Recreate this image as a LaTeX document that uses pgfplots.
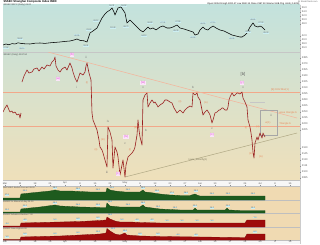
\documentclass[border=0pt]{standalone}
\usepackage{fontspec}
\setmainfont{Liberation Sans}
\usepackage{pgfplots}
\pgfplotsset{compat=1.18}
\definecolor{bgteal}{HTML}{C3E2DD}
\definecolor{bgyel}{HTML}{EEEAB5}
\definecolor{bgbeige}{HTML}{EFE0BA}
\definecolor{striptan}{HTML}{F0DAB2}
\definecolor{candle}{HTML}{9A2020}
\definecolor{salmon}{HTML}{F2A88A}
\definecolor{pinkl}{HTML}{E24FD6}
\definecolor{dkgreen}{HTML}{1E5B1E}
\definecolor{dkred}{HTML}{9E0B0B}
\definecolor{labcyan}{HTML}{CDEFF2}
\definecolor{trendgray}{HTML}{B0A884}
\definecolor{orlab}{HTML}{E8875A}
\pgfplotsset{
  panel/.style={
    scale only axis, width=297pt, xmin=3, xmax=300,
    axis line style={draw=none}, xtick=\empty,
    ytick pos=right, yticklabel pos=right,
    tick align=outside, major tick length=1.2pt,
    every tick/.style={black!45, line width=0.25pt},
    yticklabel style={font=\fontsize{2.6}{3}\selectfont, text=black!65, inner sep=0.4pt},
    /pgf/number format/assume math mode=true,
    /pgf/number format/1000 sep={},
  },
  strip/.style={panel, ymin=0, ytick=\empty},
  dates/.style={
    xtick={5,20,...,290},
    xticklabels={Mar,11,18,25,Apr,8,15,22,May,6,13,20,27,Jun,10,17,24,Jul,8,15},
    xticklabel style={font=\fontsize{2.4}{2.6}\selectfont, text=black!70, inner sep=0.3pt},
  },
}
\tikzset{
  vl/.style={fill=labcyan, inner sep=0.25pt, font=\fontsize{2.1}{2.3}\selectfont, text=black!70},
  pk/.style={text=pinkl, fill=pinkl!15, inner sep=0.3pt, font=\fontsize{3.2}{3.5}\selectfont},
  gr/.style={text=black!55, inner sep=0.2pt, font=\fontsize{3}{3.3}\selectfont},
  ol/.style={text=orlab, inner sep=0.2pt, font=\fontsize{2.6}{2.9}\selectfont},
}
\begin{document}
\begin{tikzpicture}[x=1pt,y=1pt]
\useasboundingbox (0,0) rectangle (320,244);
\fill[white] (0,0) rectangle (320,244);
\shade[top color=bgteal, middle color=bgyel, bottom color=bgbeige] (3,64) rectangle (300,239);
\fill[striptan] (3,4) rectangle (300,58);
\fill[black!3] (3,58) rectangle (300,64);
\fill[black!3] (3,0) rectangle (300,4);
\draw[gray!45, line width=0.3pt] (3,192) -- (300,192);
\draw[gray!50, line width=0.3pt] (3,64)--(300,64) (3,58)--(300,58) (3,44)--(300,44) (3,31)--(300,31) (3,17)--(300,17) (3,4)--(300,4);
\draw[gray!40, line width=0.3pt] (300,0) -- (300,239);
% titles
\node[anchor=north west, font=\fontsize{2.8}{3}\selectfont\bfseries, inner sep=0.3pt] at (3,244) {\$SSEC Shanghai Composite Index  INDX};
\node[anchor=north east, font=\fontsize{2.2}{2.5}\selectfont, text=black!60, inner sep=0.3pt] at (318,244) {@ StockCharts.com};
\node[anchor=north east, font=\fontsize{2.3}{2.5}\selectfont, inner sep=0.3pt] at (300,241.6) {Open 2195.03 High 2200.47 Low 2180.13 Close 2187.50 Volume 9.8B Chg -8.84 (-0.40\%)};
\node[anchor=north west, font=\fontsize{2.3}{2.5}\selectfont, text=black!70, inner sep=0.3pt] at (3,240.6) {\$SSEC:\$SPX (Daily) 45.00};
\node[anchor=north west, font=\fontsize{2.3}{2.5}\selectfont, text=black!70, inner sep=0.3pt] at (3,191.2) {\$SSEC (Daily) 2187.50};
\node[anchor=north west, font=\fontsize{2.2}{2.4}\selectfont, text=black!70, inner sep=0.2pt] at (3,57.8) {\$BPSSEC Bullish Percent 38.00};
\node[anchor=north west, font=\fontsize{2.2}{2.4}\selectfont, text=black!70, inner sep=0.2pt] at (3,43.8) {\$SSEC \% Above 50-day 29.00};
\node[anchor=north west, font=\fontsize{2.2}{2.4}\selectfont, text=black!70, inner sep=0.2pt] at (3,30.8) {\$SSEC Advance-Decline 7.00};
\node[anchor=north west, font=\fontsize{2.2}{2.4}\selectfont, text=black!70, inner sep=0.2pt] at (3,16.8) {\$SSEC New Highs 6.00};

% ---------------- top panel ----------------
\begin{axis}[panel, at={(3pt,192pt)}, anchor=south west, height=47pt,
  ymin=34, ymax=57.5, ytick={36,38,40,42,48,50,52,54,56},
  yticklabel style={/pgf/number format/fixed, /pgf/number format/precision=1, /pgf/number format/fixed zerofill}]
\addplot[black, line width=0.55pt, line join=round] coordinates {
(3,37.5)(6,38)(9,37.6)(12,38.2)(15,38)(18,38.6)(21,38.3)(25,38.1)(30,38)(35,38.4)(40,38.5)(45,38.3)(50,38.6)(55,38.8)(60,39)(65,39.3)(70,39.5)(74,40)(77,40.5)(80,39.8)(84,39.6)(87,39)
(90,43.5)(93,44.5)(97,46)(100,49)(102,51)(105,53)(107,54)(110,55)(112,56)(114,54)(115,52.5)(118,56)(121,56.5)(123,55)(125,53.5)(127,48.5)(130,50)(133,48.5)(137,46.5)(140,45)(143,44)(146,45.5)(148,46.5)(150,45.5)(153,46)(156,45)(160,46.5)(163,47)(167,46)(170,46)(173,46.5)(177,47.5)(180,46)(184,45.5)(187,45)(190,44.5)(193,44)(195,42.5)(198,43)(200,45)(203,46.5)(205,45.5)(208,45)(210,46)(213,47)(216,46)(220,45)(224,44.5)(228,43.5)(232,42.5)(236,42)(240,41.5)(242,41.5)(245,42.5)(247,43.5)(250,46.5)(253,48.5)(255,47)(258,46.5)(260,47)(262,46.5)(265,45)};
\node[vl] at (axis cs:6,36) {37.52};
\node[vl] at (axis cs:20,40.6) {38.62};
\node[vl] at (axis cs:22,35.8) {38.10};
\node[vl] at (axis cs:77,42.3) {40.55};
\node[vl] at (axis cs:86,37) {39.01};
\node[vl] at (axis cs:89,45) {43.60};
\node[vl] at (axis cs:96,49.5) {49.12};
\node[vl] at (axis cs:112,57) {56.31};
\node[vl] at (axis cs:124,57.2) {56.52};
\node[vl] at (axis cs:113,46) {52.40};
\node[vl] at (axis cs:126,46.5) {48.70};
\node[vl] at (axis cs:144,42.2) {44.10};
\node[vl] at (axis cs:150,48.5) {46.80};
\node[vl] at (axis cs:163,48.8) {47.02};
\node[vl] at (axis cs:178,49.2) {47.55};
\node[vl] at (axis cs:176,44.5) {45.30};
\node[vl] at (axis cs:193,41.3) {42.50};
\node[vl] at (axis cs:203,48.3) {46.50};
\node[vl] at (axis cs:213,48.8) {47.10};
\node[vl] at (axis cs:232,40.8) {42.00};
\node[vl] at (axis cs:248,44.2) {43.40};
\node[vl] at (axis cs:253,50.3) {48.60};
\node[vl] at (axis cs:261,48.6) {47.00};
\node[vl] at (axis cs:266,43.5) {45.00};
\node[fill=cyan!25!gray!45, inner sep=0.4pt, font=\fontsize{2.6}{3}\selectfont, anchor=west] at (axis cs:300.5,45) {45.00};
\end{axis}

% ---------------- main price panel ----------------
\begin{axis}[panel, at={(3pt,64pt)}, anchor=south west, height=128pt,
  ymin=2080, ymax=2400, ytick={2085,2100,...,2160,2205,2220,...,2385},
  yticklabel style={/pgf/number format/fixed, /pgf/number format/precision=0}]
\addplot[salmon, line width=0.6pt] coordinates {(3,2300) (300,2300)};
\addplot[salmon, line width=0.6pt] coordinates {(3,2215) (300,2215)};
\addplot[salmon!85, line width=0.55pt] coordinates {(48,2400) (297,2235)};
\addplot[trendgray, line width=0.5pt] coordinates {(125,2087.5) (297,2197.5)};
\addplot[gray!70, line width=0.4pt] coordinates {(260,2255)(277,2255)(277,2192.5)(260,2192.5)(260,2255)};
\addplot[gray!45, line width=0.4pt] coordinates {(250,2275)(265,2275)};
% price
\addplot[candle, line width=0.6pt, line join=round] coordinates {
(3,2250)(5,2260)(7,2267.5)(9,2255)(10,2250)(12,2252.5)(13,2247.5)(15,2250)(17,2242.5)(19,2245)(20,2235)(21,2247.5)};
\addplot[candle, line width=0.6pt, line join=round] coordinates {
(22,2325)(24,2340)(27,2355)(29,2347.5)(32,2350)(34,2357.5)(37,2360)(39,2352.5)(42,2362.5)(44,2357.5)(47,2367.5)(50,2365)(52,2375)(54,2380)(55,2387.5)(56,2365)(58,2355)(60,2350)(62,2357.5)(65,2362.5)(67,2355)(70,2372.5)(72,2360)(73,2350)(75,2335)(77,2325)(79,2340)(80,2347.5)(83,2342.5)(85,2350)(86,2365)(87,2372.5)(88,2360)(89,2347.5)(91,2330)
(92,2247.5)(93,2230)(95,2217.5)(97,2205)(99,2180)(100,2162.5)(102,2155)(103,2147.5)(105,2130)(107,2112.5)(108,2212.5)(110,2200)(112,2180)(113,2110)(115,2162.5)(117,2150)(118,2137.5)(120,2092.5)(122,2117.5)(123,2130)(125,2087.5)(126,2117.5)(128,2137.5)(130,2142.5)(132,2147.5)(134,2155)(135,2162.5)(137,2192.5)(138,2230)(139,2205)(140,2187.5)(142,2167.5)(143,2280)(145,2292.5)(147,2297.5)(148,2262.5)(150,2272.5)(152,2280)(154,2272.5)(155,2275)(157,2267.5)(158,2262.5)(160,2267.5)(163,2272.5)(165,2280)(167,2280)(170,2275)(172,2272.5)(174,2260)(177,2247.5)(180,2255)(183,2247.5)(185,2255)(187,2260)(190,2265)(192,2262.5)(193,2297.5)(195,2292.5)(197,2297.5)(198,2287.5)(200,2280)(202,2255)(203,2242.5)(205,2250)(207,2255)(209,2247.5)(210,2242.5)(212,2222.5)(213,2230)(215,2247.5)(217,2250)(219,2255)(220,2255)(222,2260)(223,2260)(225,2255)(227,2255)(228,2262.5)(229,2280)(230,2287.5)(232,2297.5)(234,2290)(235,2292.5)(237,2297.5)(238,2297.5)(240,2295)(242,2300)(243,2285)(245,2275)(247,2262.5)(248,2230)(250,2212.5)(251,2197.5)(252,2180)(253,2150)(254,2135)(255,2172.5)(257,2187.5)(258,2180)(260,2197.5)(262,2185)(263,2197.5)(265,2187.5)};
% wave labels
\node[pk] at (axis cs:58,2332.5) {(a)};
\node[pk] at (axis cs:72,2392.5) {(b)};
\node[pk] at (axis cs:118,2095) {[c]};
\node[pk] at (axis cs:126,2187.5) {(iv)};
\node[pk] at (axis cs:143,2322.5) {(w)};
\node[pk] at (axis cs:212,2192.5) {(x)};
\node[pk] at (axis cs:242,2322.5) {(y)};
\node[text=black!60, inner sep=0.2pt, font=\fontsize{4.2}{4.5}\selectfont] at (axis cs:243,2345) {[b]};
\node[gr] at (axis cs:77,2312.5) {i};
\node[gr] at (axis cs:86,2387.5) {ii};
\node[gr] at (axis cs:108,2227.5) {iv};
\node[gr] at (axis cs:107,2100) {iii};
\node[gr] at (axis cs:125,2170) {c};
\node[gr] at (axis cs:143,2310) {v};
\node[gr] at (axis cs:146,2205) {b};
\node[gr] at (axis cs:193,2312.5) {b};
\node[gr] at (axis cs:212,2207.5) {c};
\node[gr] at (axis cs:243,2310) {v};
\node[gr] at (axis cs:271,2242.5) {ii};
\node[ol] at (axis cs:87,2322.5) {(i)};
\node[ol] at (axis cs:96,2155) {(ii)};
\node[ol] at (axis cs:103,2180) {(iii)};
\node[ol] at (axis cs:130,2155) {(i)};
\node[ol] at (axis cs:136,2210) {(iii)};
\node[ol] at (axis cs:180,2275) {(ii)};
\node[ol] at (axis cs:206,2272.5) {(iv)};
\node[ol] at (axis cs:246,2210) {(i)};
\node[ol] at (axis cs:251,2145) {(iii)};
\node[ol] at (axis cs:261,2137.5) {(iv)};
\node[ol] at (axis cs:258,2212.5) {(v)};
\node[ol] at (axis cs:280,2305) {[b] 2322 Mar(1)};
\node[ol] at (axis cs:288,2247.5) {wave triangle b};
\node[ol] at (axis cs:285,2220) {Triangle b};
\node[ol] at (axis cs:268,2222.5) {w(1)};
\node[text=trendgray!70!black, inner sep=0.2pt, font=\fontsize{2.4}{2.6}\selectfont] at (axis cs:198,2130) {lower\_butterfly(1)};
\node[fill=cyan!25!gray!45, inner sep=0.4pt, font=\fontsize{2.6}{3}\selectfont, anchor=west] at (axis cs:300.5,2187.5) {2187.50};
\end{axis}

% ---------------- strip 1 ----------------
\begin{axis}[strip, dates, xtick pos=upper, xticklabel pos=upper, at={(3pt,44pt)}, anchor=south west, height=14pt, ymax=14]
\addplot[draw=dkgreen!80!black, fill=dkgreen, line width=0.3pt] coordinates {
(3,2)(20,2)(21,6)(30,7)(40,8)(50,9)(55,10)(60,9)(70,9)(80,8.5)(90,8)(100,8)(106,8)(107,12)(110,10)(115,9)(120,8.5)(125,8)(130,8)(140,8)(143,10)(145,8)(150,7.5)(160,6)(170,5)(180,4.5)(190,4.5)(195,6)(197,5)(200,4)(210,4)(220,4)(230,4)(240,4)(250,4)(260,4)(265,4)} \closedcycle;
\node[vl] at (axis cs:7,5) {27.0};
\node[vl] at (axis cs:25,9.5) {33.0};
\node[vl] at (axis cs:55,12.3) {38.0};
\node[vl] at (axis cs:78,11) {35.0};
\node[vl] at (axis cs:98,10.5) {34.0};
\node[vl] at (axis cs:112,12.5) {41.0};
\node[vl] at (axis cs:128,10.5) {34.0};
\node[vl] at (axis cs:143,12.3) {36.0};
\node[vl] at (axis cs:157,9) {30.0};
\node[vl] at (axis cs:172,7.3) {27.0};
\node[vl] at (axis cs:186,7) {26.0};
\node[vl] at (axis cs:196,9) {29.0};
\node[vl] at (axis cs:212,6.5) {25.0};
\node[vl] at (axis cs:228,6.5) {25.0};
\node[vl] at (axis cs:253,6.5) {25.0};
\node[fill=cyan!25!gray!45, inner sep=0.4pt, font=\fontsize{2.6}{3}\selectfont, anchor=west] at (axis cs:300.5,4) {38.00};
\end{axis}

% ---------------- strip 2 ----------------
\begin{axis}[strip, at={(3pt,31pt)}, anchor=south west, height=13pt, ymax=13]
\addplot[draw=dkgreen!80!black, fill=dkgreen, line width=0.3pt] coordinates {
(3,1)(20,1)(21,4)(30,5)(40,6)(55,8)(60,7)(80,6)(100,5.5)(106,5.5)(107,10)(110,7)(120,6)(130,6)(140,6)(143,8)(145,6)(160,4)(180,3)(193,3)(195,5)(197,3)(210,3)(225,3)(227,5)(229,3)(240,2.5)(265,2.5)} \closedcycle;
\node[vl] at (axis cs:7,3.5) {12.0};
\node[vl] at (axis cs:25,7) {21.0};
\node[vl] at (axis cs:55,10.3) {29.0};
\node[vl] at (axis cs:78,8.5) {24.0};
\node[vl] at (axis cs:98,8) {23.0};
\node[vl] at (axis cs:110,11.5) {35.0};
\node[vl] at (axis cs:128,8.5) {24.0};
\node[vl] at (axis cs:143,10.2) {28.0};
\node[vl] at (axis cs:158,6.5) {19.0};
\node[vl] at (axis cs:175,5.5) {15.0};
\node[vl] at (axis cs:195,7.3) {20.0};
\node[vl] at (axis cs:212,5.3) {14.0};
\node[vl] at (axis cs:228,7.3) {20.0};
\node[vl] at (axis cs:253,5) {13.0};
\node[fill=cyan!25!gray!45, inner sep=0.4pt, font=\fontsize{2.6}{3}\selectfont, anchor=west] at (axis cs:300.5,2.5) {29.00};
\end{axis}

% ---------------- strip 3 ----------------
\begin{axis}[strip, at={(3pt,17pt)}, anchor=south west, height=14pt, ymax=14]
\addplot[draw=dkred!80!black, fill=dkred, line width=0.3pt] coordinates {
(3,1)(20,1)(21,4)(40,4.5)(60,5)(80,5.5)(100,6.5)(106,7)(107,10)(110,8)(115,6)(120,5)(130,5)(140,4.5)(160,4)(200,4)(240,4)(245,4)(247,7)(265,7)} \closedcycle;
\node[vl] at (axis cs:7,3.5) {-2.0};
\node[vl] at (axis cs:25,7) {4.0};
\node[vl] at (axis cs:55,7.5) {5.0};
\node[vl] at (axis cs:78,8) {6.0};
\node[vl] at (axis cs:98,9) {8.0};
\node[vl] at (axis cs:110,12.5) {14.0};
\node[vl] at (axis cs:122,7.5) {5.0};
\node[vl] at (axis cs:137,7) {4.0};
\node[vl] at (axis cs:152,7) {4.0};
\node[vl] at (axis cs:167,6.5) {3.0};
\node[vl] at (axis cs:182,6.5) {3.0};
\node[vl] at (axis cs:197,6.5) {3.0};
\node[vl] at (axis cs:212,6.5) {3.0};
\node[vl] at (axis cs:255,9.5) {7.0};
\node[fill=pink!50, inner sep=0.4pt, font=\fontsize{2.6}{3}\selectfont, anchor=west] at (axis cs:300.5,7) {7.00};
\end{axis}

% ---------------- strip 4 ----------------
\begin{axis}[strip, dates, xtick pos=lower, xticklabel pos=lower, xticklabel style={yshift=0.6pt}, at={(3pt,4pt)}, anchor=south west, height=13pt, ymax=13]
\addplot[draw=dkred!80!black, fill=dkred, line width=0.3pt] coordinates {
(3,0.5)(20,0.5)(21,3)(40,3.5)(60,4)(80,5)(100,6)(106,7)(107,11.5)(110,9)(115,6)(120,5)(125,7)(127,5)(140,4)(160,3.5)(200,3)(240,2.5)(245,2.5)(247,6)(265,6)} \closedcycle;
\node[vl] at (axis cs:7,3) {1.0};
\node[vl] at (axis cs:25,6) {5.0};
\node[vl] at (axis cs:55,6.5) {6.0};
\node[vl] at (axis cs:78,7.5) {8.0};
\node[vl] at (axis cs:98,8.5) {10.0};
\node[vl] at (axis cs:113,11.5) {21.0};
\node[vl] at (axis cs:125,9.3) {12.0};
\node[vl] at (axis cs:140,6.3) {6.0};
\node[vl] at (axis cs:158,6) {5.0};
\node[vl] at (axis cs:178,5.5) {4.0};
\node[vl] at (axis cs:196,5.3) {4.0};
\node[vl] at (axis cs:255,8.3) {6.0};
\node[fill=pink!50, inner sep=0.4pt, font=\fontsize{2.6}{3}\selectfont, anchor=west] at (axis cs:300.5,6) {6.00};
\end{axis}
\end{tikzpicture}
\end{document}
